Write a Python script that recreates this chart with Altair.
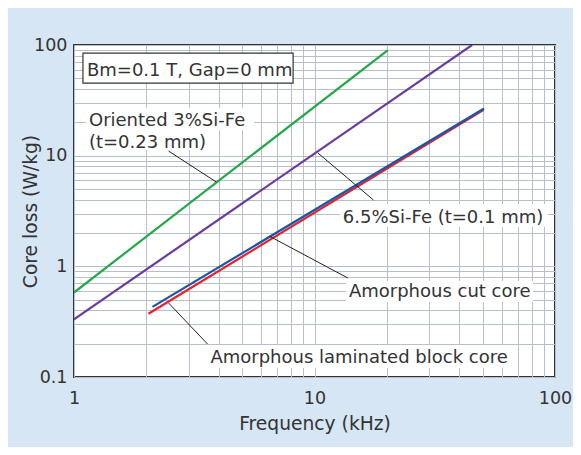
import altair as alt
import pandas as pd

# ---- curve data (frequency kHz, core loss W/kg) ----
series_names = ["Oriented 3%Si-Fe", "6.5%Si-Fe", "Amorphous laminated block core", "Amorphous cut core"]
series_colors = ["#24a84a", "#6a3c9e", "#e3222d", "#1d55a6"]
freq_green = [1.0, 20.2]
loss_green = [0.58, 90.0]
freq_purple = [1.0, 45.2]
loss_purple = [0.332, 100.0]
freq_red = [2.04, 50.5]
loss_red = [0.373, 26.0]
freq_blue = [2.12, 50.7]
loss_blue = [0.43, 26.7]

# ---- axis ticks ----
x_ticks = [1, 2, 3, 4, 5, 6, 7, 8, 9, 10, 20, 30, 40, 50, 60, 70, 80, 90, 100]
y_ticks = [0.1, 0.2, 0.3, 0.4, 0.5, 0.6, 0.7, 0.8, 0.9, 1, 2, 3, 4, 5, 6, 7, 8, 9,
           10, 20, 30, 40, 50, 60, 70, 80, 90, 100]

# ---- annotations (data coordinates) ----
ann_text = ["Bm=0.1 T, Gap=0 mm", "Oriented 3%Si-Fe", "(t=0.23 mm)", "6.5%Si-Fe (t=0.1 mm)",
            "Amorphous cut core", "Amorphous laminated block core"]
ann_x = [1.132, 1.154, 1.154, 13.12, 13.9, 3.692]
ann_y = [52.4, 18.51, 11.84, 2.487, 0.528, 0.1352]

# white label backgrounds
bg_x = [1.121, 1.121, 12.75, 13.5, 3.589]
bg_x2 = [5.617, 3.487, 93.5, 81.1, 65.1]
bg_y = [26.9, 17.03, 3.654, 0.7366, 0.1946]
bg_y2 = [17.03, 11.24, 2.265, 0.4759, 0.1206]

# condition box
box_x = [1.0896]
box_x2 = [8.147]
box_y = [84.5]
box_y2 = [45.27]

# leader lines
lead_x = [2.474, 10.34, 6.48, 2.474]
lead_y = [11.0, 10.56, 1.878, 0.466]
lead_x2 = [3.91, 17.6, 13.76, 3.59]
lead_y2 = [5.77, 3.97, 0.784, 0.1986]

FONT = "DejaVu Sans"
TXT = "#333333"

xscale = alt.Scale(type="log", domain=[1, 100], nice=False)
yscale = alt.Scale(type="log", domain=[0.1, 100], nice=False)

xaxis = alt.Axis(
    values=x_ticks, title="Frequency (kHz)", grid=True, gridColor="#b7bfcc", gridWidth=1,
    ticks=False, domain=False, labelFlush=False, labelOverlap=False,
    labelExpr="(datum.value == 1 || datum.value == 10 || datum.value == 100) ? datum.value + '' : ''",
    labelFont=FONT, labelFontSize=17.5, labelColor=TXT, labelBaseline="alphabetic", labelPadding=26,
    titleFont=FONT, titleFontSize=18.7, titleFontWeight="normal", titleColor=TXT,
    titleBaseline="alphabetic", titleY=52,
)
yaxis = alt.Axis(
    values=y_ticks, title="Core loss (W/kg)", grid=True, gridColor="#b7bfcc", gridWidth=1,
    ticks=False, domain=False, labelFlush=False, labelOverlap=False,
    labelExpr="(datum.value == 0.1 || datum.value == 1 || datum.value == 10 || datum.value == 100) ? datum.value + '' : ''",
    labelFont=FONT, labelFontSize=17.5, labelColor=TXT, labelPadding=7,
    titleFont=FONT, titleFontSize=18.7, titleFontWeight="normal", titleColor=TXT,
    titleAngle=270, titleAlign="center", titleBaseline="alphabetic", titleX=-38, titleY=166,
)

X = lambda: alt.X("x:Q", scale=xscale, axis=xaxis)
Y = lambda: alt.Y("y:Q", scale=yscale, axis=yaxis)

def curve(fx, fy, color):
    df = pd.DataFrame({"x": fx, "y": fy})
    return alt.Chart(df).mark_line(color=color, strokeWidth=2.2, clip=True).encode(x=X(), y=Y())

bg_df = pd.DataFrame({"x": bg_x, "x2": bg_x2, "y": bg_y, "y2": bg_y2})
bg = alt.Chart(bg_df).mark_rect(fill="white").encode(x=X(), x2="x2:Q", y=Y(), y2="y2:Q")

box_df = pd.DataFrame({"x": box_x, "x2": box_x2, "y": box_y, "y2": box_y2})
box = alt.Chart(box_df).mark_rect(fill="white", stroke="#333333", strokeWidth=1.2).encode(
    x=X(), x2="x2:Q", y=Y(), y2="y2:Q")

lead_df = pd.DataFrame({"x": lead_x, "y": lead_y, "x2": lead_x2, "y2": lead_y2})
leaders = alt.Chart(lead_df).mark_rule(color="#222222", strokeWidth=1).encode(
    x=X(), y=Y(), x2="x2:Q", y2="y2:Q")

ann_df = pd.DataFrame({"label": ann_text, "x": ann_x, "y": ann_y})
texts = alt.Chart(ann_df).mark_text(
    align="left", baseline="alphabetic", font=FONT, fontSize=18, color=TXT
).encode(x=X(), y=Y(), text="label:N")

chart = alt.layer(
    bg, box,
    curve(freq_green, loss_green, series_colors[0]),
    curve(freq_purple, loss_purple, series_colors[1]),
    curve(freq_red, loss_red, series_colors[2]),
    curve(freq_blue, loss_blue, series_colors[3]),
    leaders, texts,
).properties(
    width=481, height=332,
    autosize=alt.AutoSizeParams(type="none"),
    padding={"left": 66, "top": 37, "right": 18, "bottom": 70},
    background="#d6e6f5",
).configure_view(
    stroke="#333333", strokeWidth=2, fill="white"
)

chart.save("out.html", embed_options={"renderer": "svg", "actions": False})
